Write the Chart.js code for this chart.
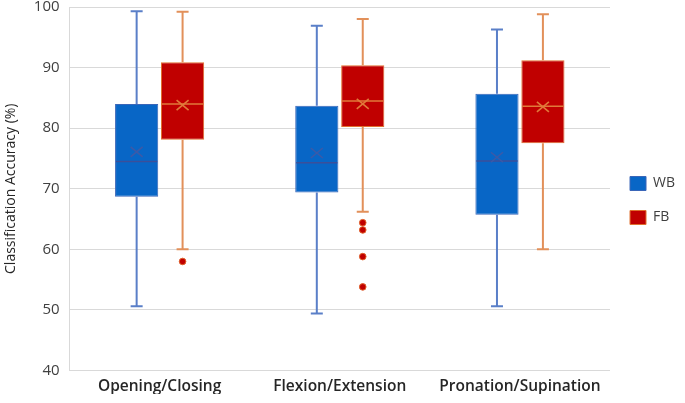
<!DOCTYPE html>
<html>
<head>
<meta charset="utf-8">
<script src="https://cdn.jsdelivr.net/npm/chart.js@4"></script>
<style>
html,body{margin:0;padding:0;background:#fff;}
#wrap{width:685px;height:403px;position:relative;}
</style>
</head>
<body>
<div id="wrap"><canvas id="c" width="685" height="403"></canvas></div>
<script>
// ---- data ----
const categories = ["Opening/Closing", "Flexion/Extension", "Pronation/Supination"];
const seriesNames = ["WB", "FB"];

const wbMin    = [50.6, 49.4, 50.6];
const wbQ1     = [68.7, 69.4, 65.7];
const wbMedian = [74.5, 74.3, 74.6];
const wbQ3     = [84.0, 83.7, 85.7];
const wbMax    = [99.3, 96.9, 96.3];
const wbMean   = [76.1, 75.9, 75.2];
const wbOutliers = [[], [], []];

const fbMin    = [60.0, 66.2, 60.0];
const fbQ1     = [78.1, 80.2, 77.5];
const fbMedian = [84.0, 84.5, 83.6];
const fbQ3     = [90.9, 90.4, 91.2];
const fbMax    = [99.2, 98.0, 98.8];
const fbMean   = [83.8, 84.0, 83.5];
const fbOutliers = [[58.0], [64.4, 63.2, 58.8, 53.8], []];

const yTicks = [40, 50, 60, 70, 80, 90, 100];

const stats = [
  {min: wbMin, q1: wbQ1, med: wbMedian, q3: wbQ3, max: wbMax, mean: wbMean, out: wbOutliers,
   whisker: '#5a7fc8', median: '#3b4f9a', meanC: '#3b5aa8', outFill: '#1f5fbf', outBorder: '#4472c4'},
  {min: fbMin, q1: fbQ1, med: fbMedian, q3: fbQ3, max: fbMax, mean: fbMean, out: fbOutliers,
   whisker: '#e2905a', median: '#e07a3a', meanC: '#e07a3a', outFill: '#c00000', outBorder: '#e0602a'}
];

const boxPlugin = {
  id: 'boxParts',
  afterDatasetsDraw(chart) {
    const ctx = chart.ctx;
    const y = chart.scales.y;
    chart.data.datasets.forEach((ds, di) => {
      const meta = chart.getDatasetMeta(di);
      if (meta.hidden) return;
      const s = stats[di];
      meta.data.forEach((bar, j) => {
        const x = bar.x;
        const w = bar.width;
        ctx.save();
        ctx.strokeStyle = s.whisker;
        ctx.lineWidth = 2;
        ctx.beginPath();
        ctx.moveTo(x, y.getPixelForValue(s.q3[j]));
        ctx.lineTo(x, y.getPixelForValue(s.max[j]));
        ctx.moveTo(x, y.getPixelForValue(s.q1[j]));
        ctx.lineTo(x, y.getPixelForValue(s.min[j]));
        ctx.stroke();
        const cap = 6;
        ctx.beginPath();
        ctx.moveTo(x - cap, y.getPixelForValue(s.max[j]));
        ctx.lineTo(x + cap, y.getPixelForValue(s.max[j]));
        ctx.moveTo(x - cap, y.getPixelForValue(s.min[j]));
        ctx.lineTo(x + cap, y.getPixelForValue(s.min[j]));
        ctx.stroke();
        ctx.strokeStyle = s.median;
        ctx.lineWidth = 1.5;
        const my = y.getPixelForValue(s.med[j]);
        ctx.beginPath();
        ctx.moveTo(x - w / 2 + 1, my);
        ctx.lineTo(x + w / 2 - 1, my);
        ctx.stroke();
        ctx.strokeStyle = s.meanC;
        ctx.lineWidth = 1.6;
        const ey = y.getPixelForValue(s.mean[j]);
        const r = 6, rv = 5;
        ctx.beginPath();
        ctx.moveTo(x - r, ey - rv); ctx.lineTo(x + r, ey + rv);
        ctx.moveTo(x - r, ey + rv); ctx.lineTo(x + r, ey - rv);
        ctx.stroke();
        s.out[j].forEach(v => {
          ctx.beginPath();
          ctx.arc(x, y.getPixelForValue(v), 3.3, 0, Math.PI * 2);
          ctx.fillStyle = s.outFill;
          ctx.fill();
          ctx.lineWidth = 1;
          ctx.strokeStyle = s.outBorder;
          ctx.stroke();
        });
        ctx.restore();
      });
    });
  }
};

const FONT = "'Open Sans', 'DejaVu Sans', sans-serif";

new Chart(document.getElementById('c'), {
  type: 'bar',
  data: {
    labels: categories,
    datasets: [
      {
        label: seriesNames[0],
        data: categories.map((_, i) => [wbQ1[i], wbQ3[i]]),
        backgroundColor: '#0866c6',
        borderColor: '#3a66b8',
        borderWidth: 1,
        borderSkipped: false,
        barPercentage: 0.94,
        categoryPercentage: 0.51
      },
      {
        label: seriesNames[1],
        data: categories.map((_, i) => [fbQ1[i], fbQ3[i]]),
        backgroundColor: '#c00000',
        borderColor: '#e0702f',
        borderWidth: 1,
        borderSkipped: false,
        barPercentage: 0.94,
        categoryPercentage: 0.51
      }
    ]
  },
  options: {
    responsive: false,
    animation: false,
    events: [],
    layout: {padding: {top: 7, right: 0, bottom: 9, left: 3}},
    plugins: {
      legend: {
        position: 'right',
        labels: {
          boxWidth: 16, boxHeight: 14, padding: 20,
          color: '#404040',
          font: {family: FONT, size: 14}
        }
      },
      tooltip: {enabled: false}
    },
    scales: {
      x: {
        grid: {display: false},
        border: {display: false},
        ticks: {
          color: '#262626',
          padding: 0,
          font: {family: FONT, size: 15.5, weight: '600', lineHeight: 1.0}
        }
      },
      y: {
        min: 40, max: 100,
        afterBuildTicks(axis) { axis.ticks = yTicks.map(v => ({value: v})); },
        afterFit(axis) { axis.paddingTop = 0; },
        grid: {color: '#d9d9d9', drawTicks: false, lineWidth: 1},
        border: {display: true, color: '#d9d9d9'},
        ticks: {
          color: '#404040',
          padding: 10,
          font: {family: FONT, size: 15}
        },
        title: {
          display: true,
          text: 'Classification Accuracy (%)',
          color: '#262626',
          padding: {top: 0, bottom: 4},
          font: {family: FONT, size: 14}
        }
      }
    }
  },
  plugins: [boxPlugin]
});
</script>
</body>
</html>
